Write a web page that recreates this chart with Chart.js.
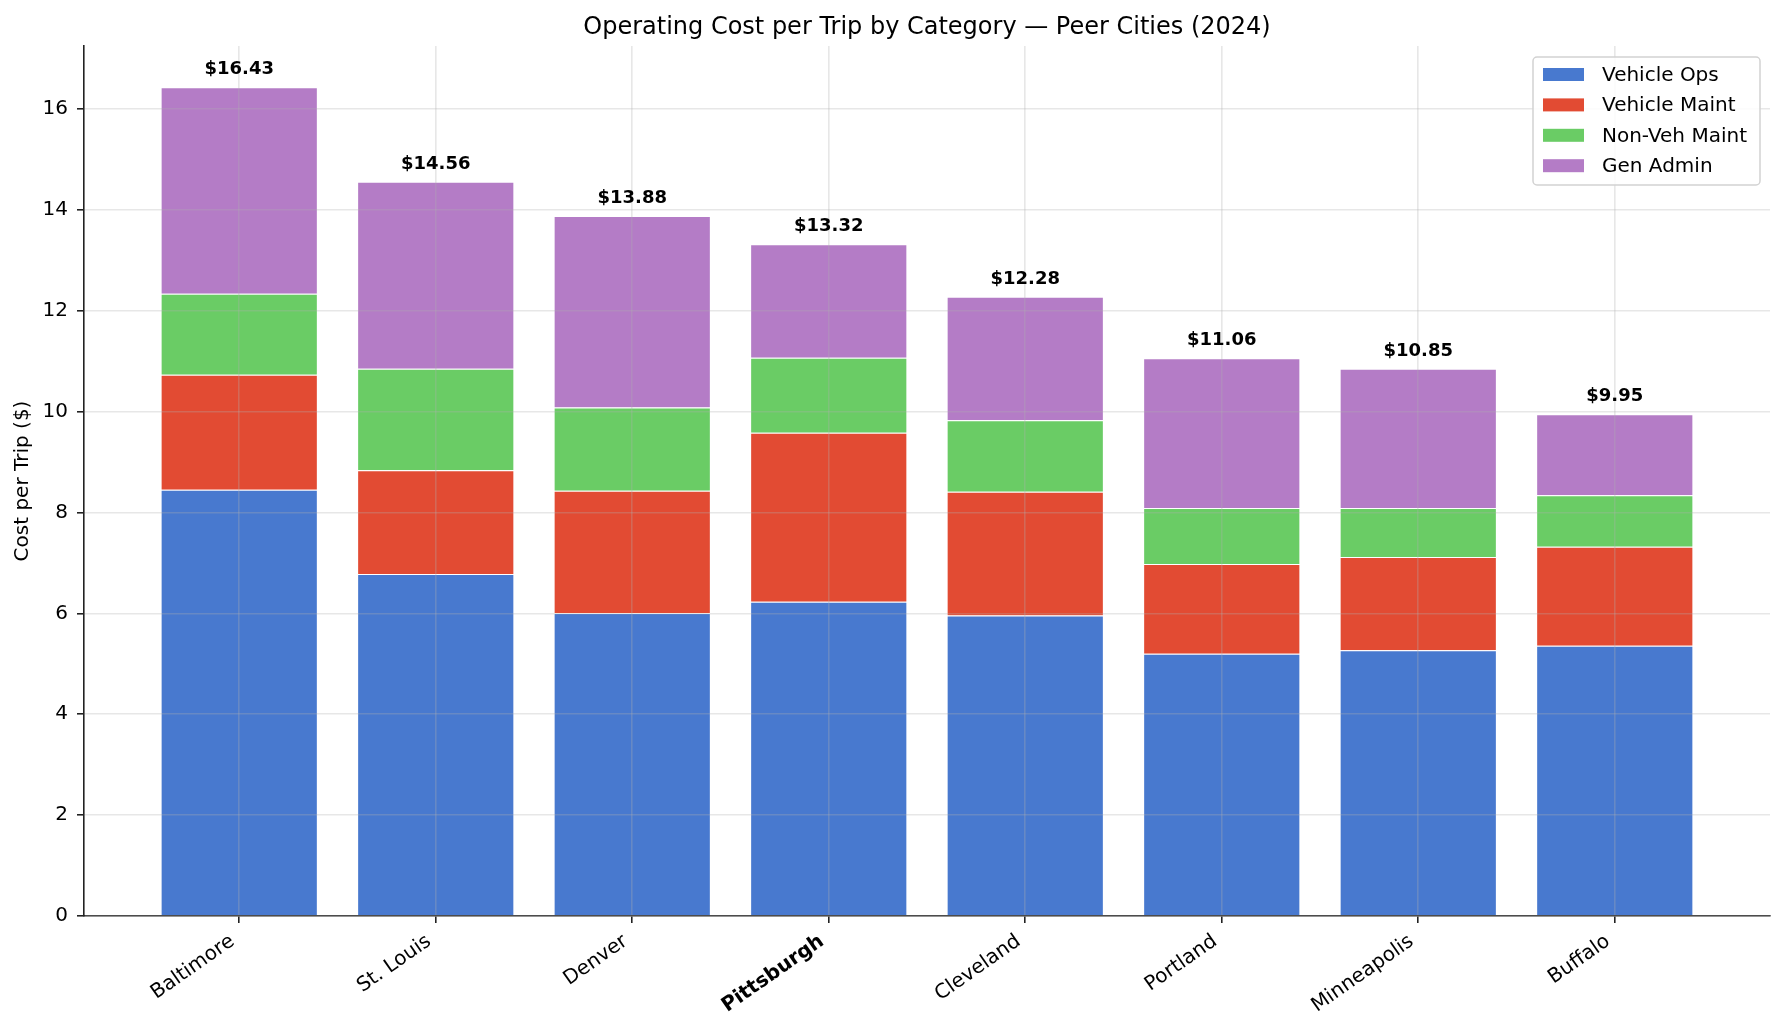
<!DOCTYPE html>
<html><head><meta charset="utf-8">
<script src="https://cdn.jsdelivr.net/npm/chart.js@4"></script>
<style>html,body{margin:0;padding:0;background:#fff;}canvas{display:block;}</style>
</head><body>
<canvas id="c" width="1785" height="1035"></canvas>
<script>
const cities = ['Baltimore','St. Louis','Denver','Pittsburgh','Cleveland','Portland','Minneapolis','Buffalo'];
const seriesNames = ['Vehicle Ops','Vehicle Maint','Non-Veh Maint','Gen Admin'];
const vehicleOps   = [8.45, 6.78, 6.01, 6.23, 5.96, 5.20, 5.27, 5.36];
const vehicleMaint = [2.28, 2.06, 2.42, 3.35, 2.45, 1.78, 1.85, 1.96];
const nonVehMaint  = [1.61, 2.01, 1.65, 1.49, 1.42, 1.11, 0.97, 1.02];
const genAdmin     = [4.09, 3.71, 3.80, 2.25, 2.45, 2.97, 2.76, 1.61];
const totals       = [16.43, 14.56, 13.88, 13.32, 12.28, 11.06, 10.85, 9.95];
const yTicks = [0, 2, 4, 6, 8, 10, 12, 14, 16];
const highlightCity = 'Pittsburgh';
const titleText = 'Operating Cost per Trip by Category \u2014 Peer Cities (2024)';
const yTitle = 'Cost per Trip ($)';

const colors = ['#4879CF', '#E24B33', '#6ACC65', '#B47CC6'];
const FONT = 'DejaVu Sans';
const seriesValues = [vehicleOps, vehicleMaint, nonVehMaint, genAdmin];

const datasets = seriesNames.map((name, s) => ({
  label: name,
  data: seriesValues[s].map((v, i) => ({x: i, y: v})),
  backgroundColor: colors[s],
  borderColor: '#ffffff',
  borderWidth: 1,
  barPercentage: 0.8,
  categoryPercentage: 1.0
}));

const overlay = {
  id: 'overlay',
  afterDraw(chart) {
    const ctx = chart.ctx;
    const xs = chart.scales.x, ys = chart.scales.y;
    const ca = chart.chartArea;
    ctx.save();
    ctx.fillStyle = '#000';
    ctx.font = '24px "' + FONT + '"';
    ctx.textAlign = 'center';
    ctx.textBaseline = 'alphabetic';
    ctx.fillText(titleText, (ca.left + ca.right) / 2, 34);
    ctx.font = 'bold 18px "' + FONT + '"';
    totals.forEach((t, i) => {
      ctx.fillText('$' + t.toFixed(2), xs.getPixelForValue(i), ys.getPixelForValue(t) - 13);
    });
    const lx = 1533, ly = 57, lw = 227, lh = 128;
    ctx.beginPath();
    ctx.roundRect(lx, ly, lw, lh, 4);
    ctx.fillStyle = 'rgba(255,255,255,0.85)';
    ctx.fill();
    ctx.lineWidth = 1.5;
    ctx.strokeStyle = '#d2d2d2';
    ctx.stroke();
    ctx.font = '20px "' + FONT + '"';
    ctx.textAlign = 'left';
    ctx.textBaseline = 'middle';
    seriesNames.forEach((n, i) => {
      const cy = 74.5 + i * 30.4;
      ctx.fillStyle = colors[i];
      ctx.fillRect(1543, cy - 6.5, 41, 13);
      ctx.fillStyle = '#000';
      ctx.fillText(n, 1602, cy + 1);
    });
    ctx.restore();
  }
};

const gridOpts = { z: 1, color: 'rgba(176,176,176,0.3)', lineWidth: 1.6, tickLength: 7, tickColor: '#222', tickWidth: 1.6 };

new Chart(document.getElementById('c'), {
  type: 'bar',
  data: { datasets },
  plugins: [overlay],
  options: {
    responsive: false,
    animation: false,
    devicePixelRatio: 1,
    layout: { padding: { top: 46, right: 15, left: 0, bottom: 0 } },
    plugins: { legend: { display: false }, title: { display: false }, tooltip: { enabled: false } },
    scales: {
      x: {
        type: 'linear',
        stacked: true,
        offset: false,
        min: -0.79,
        max: 7.79,
        z: 1,
        afterBuildTicks: (scale) => { scale.ticks = cities.map((c, i) => ({ value: i })); },
        afterFit: (scale) => { scale.height = 119; },
        grid: Object.assign({ offset: false }, gridOpts),
        border: { z: 1, color: '#222', width: 1.6 },
        ticks: {
          z: 1,
          autoSkip: false,
          minRotation: 35,
          maxRotation: 35,
          padding: 6.7,
          labelOffset: -6.7,
          color: '#000',
          callback: (v) => cities[v] ?? '',
          font: (c) => ({ family: FONT, size: 20, weight: (c.tick && cities[c.tick.value] === highlightCity) ? 'bold' : 'normal' })
        }
      },
      y: {
        stacked: true,
        min: 0,
        max: 17.25,
        z: 1,
        afterBuildTicks: (scale) => { scale.ticks = yTicks.map(v => ({ value: v })); },
        afterFit: (scale) => { scale.width = 84; },
        grid: Object.assign({}, gridOpts),
        border: { z: 1, color: '#222', width: 1.6 },
        ticks: { z: 1, padding: 9, color: '#000', font: { family: FONT, size: 20 }, callback: (v) => String(v) },
        title: { display: true, text: yTitle, color: '#000', font: { family: FONT, size: 20 }, padding: { top: 11, bottom: 0 } }
      }
    }
  }
});
</script>
</body></html>
